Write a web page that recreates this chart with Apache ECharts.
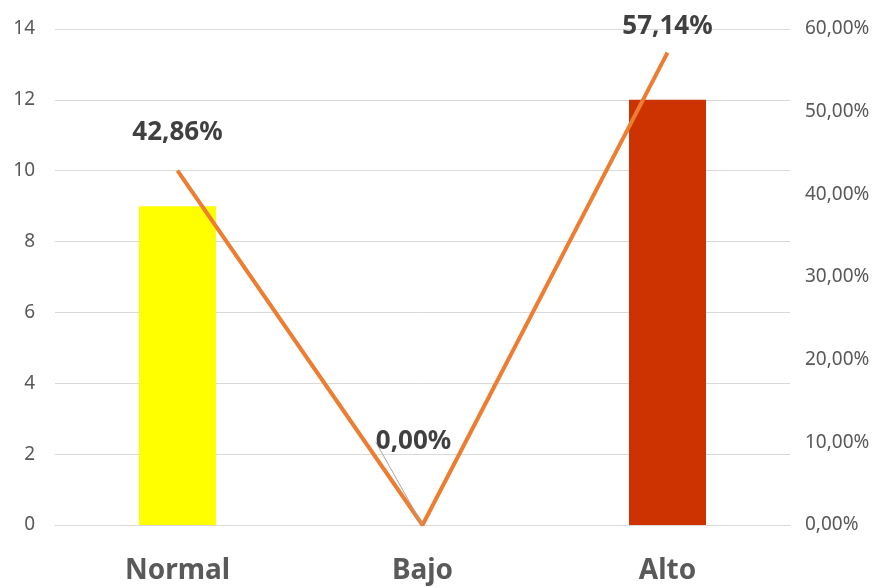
<!DOCTYPE html>
<html><head><meta charset="utf-8">
<script src="https://cdn.jsdelivr.net/npm/echarts@6/dist/echarts.min.js"></script>
<style>html,body{margin:0;padding:0;background:#fff}#c{width:883px;height:588px}</style>
</head><body><div id="c"></div>
<script>
var categories = ['Normal', 'Bajo', 'Alto'];
var counts = [9, 0, 12];
var percents = [0.4286, 0.0, 0.5714];
var barColors = ['#FFFF00', '#FFFF00', '#CC3300'];

function pct(v) { return (v * 100).toFixed(2).replace('.', ',') + '%'; }

var chart = echarts.init(document.getElementById('c'));
var labelShift = [{dx: 0, dy: -20}, {dx: -9, dy: -65}, {dx: 0, dy: -8}];
chart.setOption({
  animation: false,
  grid: {left: 55, right: 93, top: 29, bottom: 63, containLabel: false},
  xAxis: {
    type: 'category', data: categories,
    axisLine: {show: true, lineStyle: {color: '#D9D9D9', width: 1}},
    axisTick: {show: false},
    axisLabel: {fontFamily: 'Noto Sans', fontWeight: 'bold', fontSize: 28, color: '#595959', margin: 32}
  },
  yAxis: [{
    type: 'value', min: 0, max: 14, interval: 2,
    axisLine: {show: false}, axisTick: {show: false},
    splitLine: {lineStyle: {color: '#D9D9D9', width: 1}},
    axisLabel: {fontFamily: 'Noto Sans', fontSize: 19, color: '#595959', margin: 20}
  }, {
    type: 'value', min: 0, max: 0.6, interval: 0.1, position: 'right',
    axisLine: {show: false}, axisTick: {show: false},
    splitLine: {show: false},
    axisLabel: {fontFamily: 'Noto Sans', fontSize: 19, color: '#595959', margin: 15,
      formatter: function (v) { return pct(v); }}
  }],
  series: [{
    type: 'bar', yAxisIndex: 0, barWidth: 77,
    data: counts.map(function (v, i) { return {value: v, itemStyle: {color: barColors[i]}}; }),
    z: 2
  }, {
    type: 'line', yAxisIndex: 1, z: 3,
    data: percents.map(function (v, i) { return {value: v, labelLine: {show: i === 1}}; }),
    symbol: 'circle', symbolSize: 0, showSymbol: true,
    itemStyle: {color: '#ED7D31'},
    lineStyle: {color: '#ED7D31', width: 4},
    label: {show: true, position: 'top', distance: 5, fontFamily: 'Noto Sans', fontWeight: 'bold',
      fontSize: 26, color: '#404040', formatter: function (p) { return pct(p.value); }},
    labelLine: {show: false, lineStyle: {color: '#A6A6A6', width: 1}},
    labelLayout: function (p) { return labelShift[p.dataIndex]; }
  }]
});
</script></body></html>
